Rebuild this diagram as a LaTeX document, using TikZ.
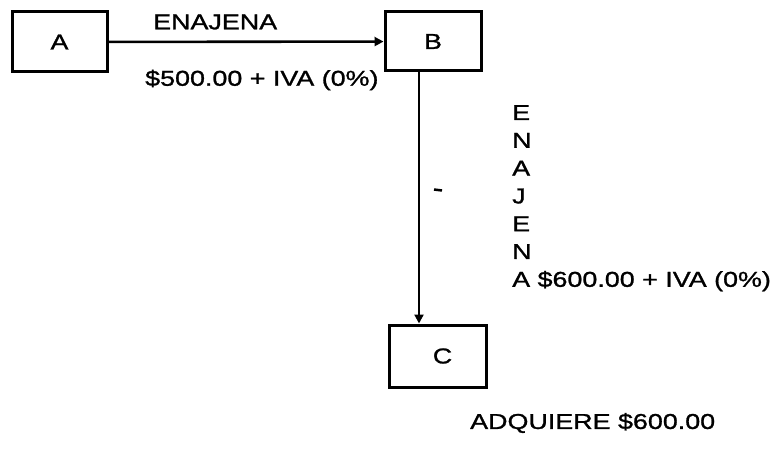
\documentclass[tikz,border=0pt]{standalone}
\usepackage{fontspec}
\setmainfont[FakeStretch=1.25,FakeBold=1.2]{Liberation Sans}
\usetikzlibrary{arrows.meta}
\begin{document}
\begin{tikzpicture}[x=1pt,y=1pt,
  box/.style={draw,line width=3pt,inner sep=0pt,font=\fontsize{21.5}{24}\selectfont},
  lbl/.style={inner sep=0pt,anchor=west,font=\fontsize{21.5}{24}\selectfont},
  arr/.style={line width=2.6pt,-{Triangle[length=9pt,width=9pt]}}]
\useasboundingbox (0,0) rectangle (781,453);
\node[box,minimum width=95pt,minimum height=60pt] (A) at (59.5,411) {A};
\node[box,minimum width=96pt,minimum height=59pt] (B) at (433,411.5) {B};
\node[box,minimum width=97pt,minimum height=62pt] (C) at (437.5,97) {\hspace*{10pt}C};
\draw[arr] (A) -- (B);
\draw[arr] ([xshift=-14pt]B.south) -- ([xshift=-14pt]B.south |- C.north);
\node[lbl] (t1) at (153,431) {ENAJENA};
\node[lbl] (t2) at (145,373) {\$500.00 + IVA (0\%)};
\node[lbl,anchor=north west,align=left,font=\fontsize{21.5}{27.8}\selectfont] (t3) at (512,348)
  {E\\N\\A\\J\\E\\N\\A \$600.00 + IVA (0\%)};
\node[lbl] (t4) at (470,30) {ADQUIERE \$600.00};
\coordinate (d1) at (434,263.5);
\coordinate (d2) at (442,262.5);
\draw[line width=2.5pt] (d1) -- (d2);
\end{tikzpicture}
\end{document}
